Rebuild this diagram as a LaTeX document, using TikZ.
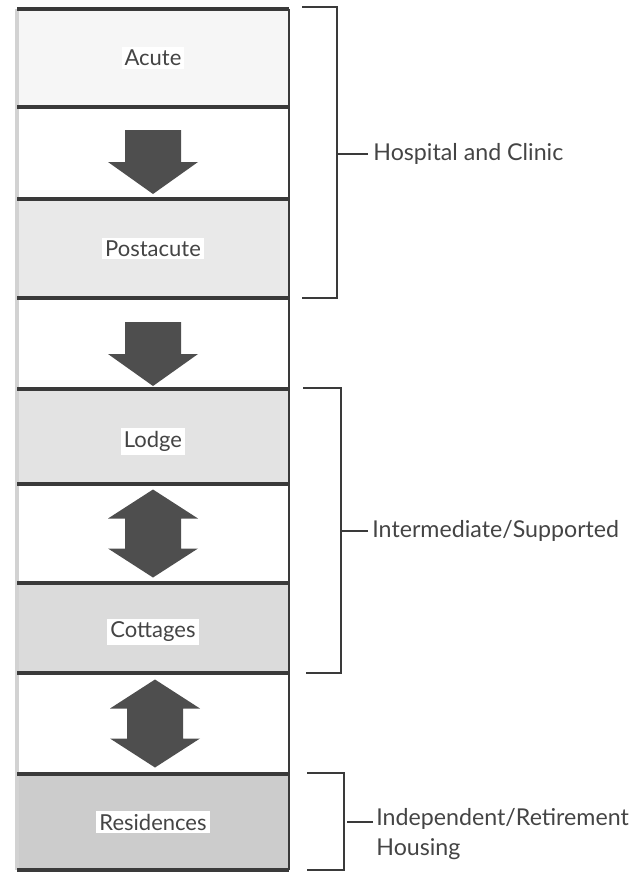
\documentclass[tikz,border=0pt]{standalone}
\usepackage{fontspec}
\setmainfont{Lato}
\usetikzlibrary{calc,positioning}
\definecolor{inkgrey}{HTML}{3A3A3A}
\definecolor{textgrey}{HTML}{444444}
\definecolor{arrowgrey}{HTML}{4E4E4E}
\tikzset{
  band/.style      = {minimum width=136pt, inner sep=0pt, outer sep=0pt},
  tag/.style       = {fill=white, inner sep=1.5pt, text=textgrey, font=\fontsize{11}{13}\selectfont},
  side/.style      = {anchor=west, inner sep=0pt, text=textgrey, align=left,
                      font=\fontsize{11.6}{15}\selectfont},
  rule/.style      = {draw=inkgrey, line width=1.7pt},
  bracket/.style   = {draw=inkgrey, line width=1pt},
  arrowfill/.style = {fill=arrowgrey},
  downarrow/.pic   = {\fill[arrowfill] (-28,-32) -- (28,-32) -- (28,0) -- (45,0) -- (0,32)
                        -- (-45,0) -- (-28,0) -- cycle;},
  twoway/.pic      = {\fill[arrowfill] (0,-44) -- (45,-15) -- (28,-15) -- (28,15) -- (45,15)
                        -- (0,44) -- (-45,15) -- (-28,15) -- (-28,-15) -- (-45,-15) -- cycle;},
}
\begin{document}
\begin{tikzpicture}[x=0.5pt, y=-0.5pt]
  \useasboundingbox (0,0) rectangle (640,884);
  % the stack of care levels
  \node[band, fill=gray!7,  minimum height=49pt]   (acute)      at (153,58)    {};
  \node[band, fill=gray!17, minimum height=49.5pt] (postacute)  at (153,248.5) {};
  \node[band, fill=gray!22, minimum height=47.5pt] (lodge)      at (153,436.5) {};
  \node[band, fill=gray!28, minimum height=45pt]   (cottages)   at (153,628)   {};
  \node[band, fill=gray!40, minimum height=48pt]   (residences) at (153,822)   {};
  \draw[gray!35, line width=2pt] (acute.north west) -- (residences.south west);
  \draw[inkgrey, line width=0.8pt] (acute.north east) -- (residences.south east);
  \foreach \b in {acute,postacute,lodge,cottages,residences}
    \draw[rule] (\b.north west) -- (\b.north east) (\b.south west) -- (\b.south east);
  \node[tag] (acute-t)      at (acute)      {Acute};
  \node[tag] (postacute-t)  at (postacute)  {Postacute};
  \node[tag] (lodge-t)      at ($(lodge)+(0,5)$)    {Lodge};
  \node[tag] (cottages-t)   at ($(cottages)+(0,4)$) {Cottages};
  \node[tag] (residences-t) at (residences) {Residences};
  % arrows between the levels
  \pic at ($(postacute.north)+(0,-37)$) {downarrow};
  \pic at ($(lodge.north)+(0,-35)$) {downarrow};
  \pic at ($(lodge.south)!.5!(cottages.north)$) {twoway};
  \pic at ($(cottages.south)!.5!(residences.north)+(2,0)$) {twoway};
  % groups on the right
  \node[side] (hosp) at ($(acute.north east)!.5!(postacute.south east)+(84,0)$) {Hospital and Clinic};
  \node[side] (inter) at ($(lodge.north east)!.5!(cottages.south east)+(83,0)$) {Intermediate/Supported};
  \node[side, anchor=north west] (indep) at ($(residences.east)+(87,-14)$) {Independent/Retirement\\Housing};
  \draw[bracket] ($(acute.north east)+(13,-2)$) -| ($(postacute.south east)+(48,0)$)
    -- ($(postacute.south east)+(13,0)$);
  \draw[bracket] ($(lodge.north east)+(14,-1)$) -| ($(cottages.south east)+(52,0)$)
    -- ($(cottages.south east)+(17,0)$);
  \draw[bracket] ($(residences.north east)+(18,-1)$) -| ($(residences.south east)+(55,0)$)
    -- ($(residences.south east)+(18,0)$);
  \draw[bracket] ([xshift=-2.5pt]hosp.west) -- ++(-31,0);
  \draw[bracket] ([xshift=-2pt]inter.west) -- ++(-27,0);
  \draw[bracket] ($(indep.north west)+(-3,14)$) -- ++(-26,0);
\end{tikzpicture}
\end{document}
